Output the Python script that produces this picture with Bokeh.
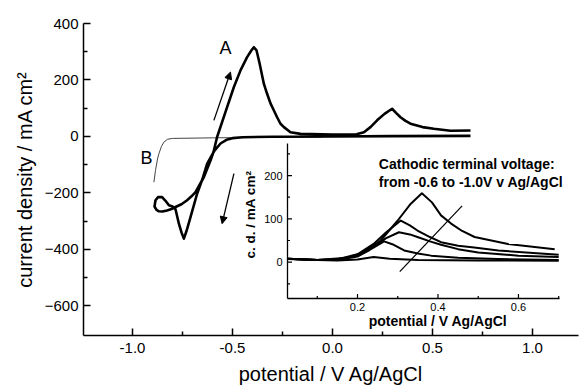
import math
from bokeh.plotting import figure
from bokeh.models import (Range1d, FixedTicker, PrintfTickFormatter, Label, Arrow,
                          NormalHead)
from bokeh.core.properties import value
from bokeh.embed import file_html
from bokeh.resources import INLINE

FONT = "Liberation Sans"

# ---------------- main chart data ----------------
# curve A: full cyclic voltammogram (cathodic sweep then anodic sweep)
a_potential = [0.69, 0.30, 0.0, -0.30, -0.45, -0.50, -0.53, -0.56, -0.59, -0.61,
               -0.627, -0.65, -0.677, -0.71, -0.73, -0.743, -0.755, -0.768, -0.785,
               -0.80, -0.818, -0.835, -0.852, -0.872, -0.885,
               -0.89, -0.88, -0.868, -0.85, -0.827, -0.805, -0.785, -0.755, -0.727,
               -0.705, -0.685, -0.665, -0.643, -0.625, -0.61, -0.595, -0.577,
               -0.527, -0.493, -0.46, -0.427, -0.405, -0.393, -0.38, -0.365, -0.343,
               -0.327, -0.31, -0.293, -0.277, -0.26, -0.243, -0.21, -0.16, 0.0,
               0.12, 0.157, 0.19, 0.223, 0.26, 0.298, 0.32, 0.34, 0.365, 0.39,
               0.45, 0.507, 0.59, 0.69]
a_current = [2, 1, 0, -1, -3, -6, -12, -25, -50, -75,
             -97, -150, -203, -286, -335, -362, -340, -309, -258,
             -248, -244, -228, -215, -215, -226,
             -248, -260, -265, -266, -262, -257, -250, -240, -226,
             -212, -197, -172, -144, -112, -85, -55, -2,
             104, 175, 234, 281, 305, 316, 305, 260, 186,
             151, 117, 92, 68, 45, 33, 15, 9, 7,
             8, 15, 33, 57, 80, 98, 82, 68, 55, 45,
             33, 27, 20, 21]

# curve B: thin curve
b_potential = [-0.893, -0.885, -0.875, -0.868, -0.855, -0.843, -0.825, -0.80, -0.60, -0.30, -0.05]
b_current = [-162, -120, -80, -61, -35, -20, -10, -7, -5, -3, -2]

main_xticks = [-1.0, -0.5, 0.0, 0.5, 1.0]
main_xminor = [-0.75, -0.25, 0.25, 0.75]
main_yticks = [-600, -400, -200, 0, 200, 400]
main_yminor = [-500, -300, -100, 100, 300]

# sweep-direction arrows (start potential, start current, end potential, end current)
arrow_up = [-0.593, 57, -0.51, 228]
arrow_down = [-0.493, -132, -0.552, -309]

# ---------------- inset data ----------------
ins_v1 = [0.026, 0.10, 0.15, 0.20, 0.24, 0.28, 0.35, 0.50, 0.70]
ins_j1 = [7, 5, 4, 6, 12, 8, 5, 4, 3]
ins_v2 = [0.026, 0.10, 0.15, 0.20, 0.23, 0.266, 0.29, 0.316, 0.35, 0.383, 0.45, 0.55, 0.70]
ins_j2 = [8, 5, 5, 13, 28, 48, 40, 27, 20, 15, 10, 7, 5]
ins_v3 = [0.026, 0.10, 0.15, 0.20, 0.24, 0.27, 0.303, 0.33, 0.349, 0.38, 0.4075, 0.45, 0.50, 0.60, 0.70]
ins_j3 = [8, 5, 6, 16, 35, 55, 69, 64, 58, 48, 40, 30, 22, 15, 12]
ins_v4 = [0.026, 0.10, 0.15, 0.20, 0.24, 0.27, 0.3075, 0.33, 0.349, 0.38, 0.4075, 0.45, 0.49, 0.55, 0.70]
ins_j4 = [8, 5, 7, 18, 42, 68, 96, 85, 73, 58, 46, 38, 34, 27, 17]
ins_v5 = [0.026, 0.10, 0.174, 0.216, 0.2575, 0.299, 0.3325, 0.36, 0.385, 0.4075, 0.4325, 0.46, 0.491, 0.574, 0.69]
ins_j5 = [8, 5, 10, 23, 50, 95, 135, 159, 138, 108, 89, 72, 58, 42, 30]
inset_curves = [(ins_v1, ins_j1), (ins_v2, ins_j2), (ins_v3, ins_j3), (ins_v4, ins_j4), (ins_v5, ins_j5)]

trend_v = [0.305, 0.46]
trend_j = [-22, 130]

ins_xticks = [0.2, 0.4, 0.6]
ins_xminor = [0.1, 0.3, 0.5, 0.7]
ins_yticks = [0, 100, 200]
ins_yminor = [-50, 50, 150, 250]
ins_xlim = (0.026, 0.702)
ins_ylim = (-84, 274)

# ---------------- layout constants (pixels) ----------------
W, H = 581, 390
FRAME = dict(left=83, right=578, top=23, bottom=335)
INSET = dict(left=287, right=559, top=143, bottom=298)

# ---------------- main figure ----------------
p = figure(width=W, height=H, x_range=Range1d(-1.245, 1.23), y_range=Range1d(-705, 400),
           output_backend="svg", toolbar_location=None,
           min_border_left=FRAME["left"], min_border_right=W - FRAME["right"],
           min_border_top=FRAME["top"], min_border_bottom=H - FRAME["bottom"])
p.grid.visible = False
p.outline_line_color = None
p.xaxis.ticker = FixedTicker(ticks=main_xticks, minor_ticks=main_xminor)
p.yaxis.ticker = FixedTicker(ticks=main_yticks, minor_ticks=main_yminor)
p.xaxis.formatter = PrintfTickFormatter(format="%.1f")
p.xaxis.axis_label = "potential / V Ag/AgCl"
p.yaxis.axis_label = "current density / mA cm\u00b2"
for ax in (p.xaxis[0], p.yaxis[0]):
    ax.axis_line_width = 1.5
    ax.axis_line_color = "black"
    ax.major_tick_line_width = 1.5
    ax.minor_tick_line_width = 1.5
    ax.major_tick_line_color = "black"
    ax.minor_tick_line_color = "black"
    ax.major_tick_in = 7
    ax.major_tick_out = 0
    ax.minor_tick_in = 4
    ax.minor_tick_out = 0
    ax.major_label_text_font = FONT
    ax.major_label_text_font_size = "15px"
    ax.major_label_text_color = "black"
    ax.axis_label_text_font = FONT
    ax.axis_label_text_font_size = "20px"
    ax.axis_label_text_font_style = "normal"
    ax.axis_label_text_color = "black"
p.xaxis.major_label_standoff = 7
p.yaxis.major_label_standoff = 5
p.xaxis.axis_label_standoff = 7
p.yaxis.axis_label_standoff = 6

p.line(b_potential, b_current, line_color="#444444", line_width=1)
p.line(a_potential, a_current, line_color="black", line_width=2.6, line_join="round")

head = dict(size=7, fill_color="black", line_color="black")
p.add_layout(Arrow(x_start=arrow_up[0], y_start=arrow_up[1], x_end=arrow_up[2], y_end=arrow_up[3],
                   line_width=1.3, line_color="black", end=NormalHead(**head)))
p.add_layout(Arrow(x_start=arrow_down[0], y_start=arrow_down[1], x_end=arrow_down[2], y_end=arrow_down[3],
                   line_width=1.3, line_color="black", end=NormalHead(**head)))
p.add_layout(Label(x=-0.535, y=315, text="A", text_font=FONT, text_font_size="18px",
                   text_color="black", text_align="center", text_baseline="middle"))
p.add_layout(Label(x=-0.93, y=-78, text="B", text_font=FONT, text_font_size="18px",
                   text_color="black", text_align="center", text_baseline="middle"))

# ---------------- inset drawn on extra ranges ----------------
sx = (INSET["right"] - INSET["left"]) / (ins_xlim[1] - ins_xlim[0])   # px per V
sy = (INSET["bottom"] - INSET["top"]) / (ins_ylim[1] - ins_ylim[0])   # px per mA cm-2
p.extra_x_ranges = {"ix": Range1d(ins_xlim[0] - (INSET["left"] - FRAME["left"]) / sx,
                                  ins_xlim[1] + (FRAME["right"] - INSET["right"]) / sx)}
p.extra_y_ranges = {"iy": Range1d(ins_ylim[0] - (FRAME["bottom"] - INSET["bottom"]) / sy,
                                  ins_ylim[1] + (INSET["top"] - FRAME["top"]) / sy)}
IR = dict(x_range_name="ix", y_range_name="iy")

for v, j in inset_curves:
    p.line(v, j, line_color="black", line_width=2, line_join="round", **IR)
p.line(trend_v, trend_j, line_color="black", line_width=1.2, **IR)

# inset axes lines
x0, x1 = ins_xlim
y0, y1 = ins_ylim
p.segment(x0=[x0, x0], y0=[y0, y0], x1=[x1, x0], y1=[y0, y1],
          line_color="black", line_width=1.3, **IR)
# inset ticks (inward)
maj, mnr = 4.5, 2.5
xt = ins_xticks + ins_xminor
xt_len = [maj / sy] * len(ins_xticks) + [mnr / sy] * len(ins_xminor)
p.segment(x0=xt, y0=[y0] * len(xt), x1=xt, y1=[y0 + l for l in xt_len],
          line_color="black", line_width=1.2, **IR)
yt = ins_yticks + ins_yminor
yt_len = [maj / sx] * len(ins_yticks) + [mnr / sx] * len(ins_yminor)
p.segment(x0=[x0] * len(yt), y0=yt, x1=[x0 + l for l in yt_len], y1=yt,
          line_color="black", line_width=1.2, **IR)
# inset tick labels
p.text(x=ins_xticks, y=[y0 - 4 / sy] * len(ins_xticks), text=["%.1f" % t for t in ins_xticks],
       text_font=value(FONT), text_font_size="11px", text_color="black",
       text_align="center", text_baseline="top", **IR)
p.text(x=[x0 - 5 / sx] * len(ins_yticks), y=ins_yticks, text=["%d" % t for t in ins_yticks],
       text_font=value(FONT), text_font_size="11px", text_color="black",
       text_align="right", text_baseline="middle", **IR)
# inset axis labels and annotation
p.add_layout(Label(x=0.4, y=y0 - 22 / sy, text="potential / V Ag/AgCl", text_font=FONT,
                   text_font_size="14px", text_font_style="bold", text_color="black",
                   text_align="center", text_baseline="middle", **IR))
p.add_layout(Label(x=x0 - 37 / sx, y=110, text="c. d. / mA cm\u00b2", text_font=FONT,
                   text_font_size="13.5px", text_font_style="bold", text_color="black",
                   text_align="center", text_baseline="middle", angle=math.pi / 2, **IR))
p.add_layout(Label(x=0.253, y=227, text="Cathodic terminal voltage:", text_font=FONT,
                   text_font_size="14px", text_font_style="bold", text_color="black",
                   text_baseline="middle", **IR))
p.add_layout(Label(x=0.253, y=184, text="from -0.6 to -1.0V v Ag/AgCl", text_font=FONT,
                   text_font_size="14px", text_font_style="bold", text_color="black",
                   text_baseline="middle", **IR))

open("out.html", "w").write(file_html(p, INLINE))
